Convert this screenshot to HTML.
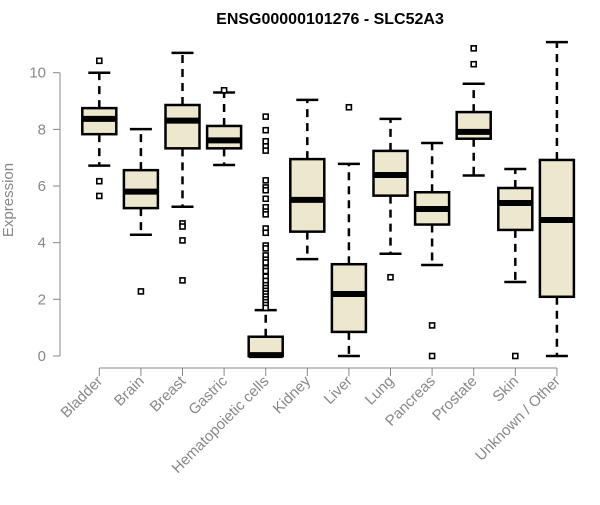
<!DOCTYPE html>
<html><head><meta charset="utf-8"><style>
body{margin:0;background:#fff}
svg text{font-family:"Liberation Sans",Arial,sans-serif}
</style></head><body>
<svg id="c" width="600" height="500" xmlns="http://www.w3.org/2000/svg">
<text x="330" y="24" text-anchor="middle" font-size="16" font-weight="bold">ENSG00000101276 - SLC52A3</text>
<text transform="translate(13,200) rotate(-90)" text-anchor="middle" font-size="15" fill="#888">Expression</text>
<g id="axes"></g><g id="boxes"></g>
</svg>
<script>
const categories=["Bladder","Brain","Breast","Gastric","Hematopoietic cells","Kidney","Liver","Lung","Pancreas","Prostate","Skin","Unknown / Other"];
const whiskerLow=[6.72,4.28,5.27,6.74,0,3.42,0,3.61,3.21,6.37,2.61,0];
const q1=[7.83,5.22,7.33,7.33,0,4.39,0.85,5.66,4.64,7.67,4.45,2.09];
const medians=[8.37,5.80,8.31,7.61,0.03,5.51,2.19,6.39,5.19,7.91,5.40,4.80];
const q3=[8.75,6.56,8.86,8.12,0.68,6.95,3.24,7.24,5.78,8.61,5.93,6.92];
const whiskerHigh=[10.0,8.01,10.7,9.3,1.62,9.04,6.78,8.37,7.52,9.61,6.6,11.08];
const outliers=[[10.42,6.17,5.65],[2.28],[4.68,4.57,4.08,2.67],[9.38],
[8.45,7.97,7.58,7.4,7.25,6.2,5.95,5.85,5.55,5.25,5.1,5.0,4.5,4.35,3.9,3.8,3.55,3.4,3.3,3.1,3.0,2.8,2.65,2.5,2.4,2.3,2.2,2.1,2.0,1.9,1.8,1.7],
[],[8.78],[2.78],[1.08,0],[10.86,10.3],[0],[]];
const yTicks=[0,2,4,6,8,10];
const NS="http://www.w3.org/2000/svg";
const y=v=>356-v*28.33;
const x=i=>99.3+i*41.6;
function mk(t,a,p){const e=document.createElementNS(NS,t);for(const k in a)e.setAttribute(k,a[k]);p.appendChild(e);return e;}
const ax=document.getElementById('axes'),bx=document.getElementById('boxes');
let yl=mk('line',{x1:60,x2:60,y1:y(0),y2:y(10),stroke:'#888'},ax);


yTicks.forEach(t=>{
 mk('line',{x1:53,x2:60,y1:y(t),y2:y(t),stroke:'#888'},ax);
 const tx=mk('text',{x:46,y:y(t)+5,'text-anchor':'end','font-size':15,fill:'#888'},ax);tx.textContent=t;
 
 
});
let xl=mk('line',{x1:x(0),x2:x(11),y1:368,y2:368,stroke:'#888'},ax);


categories.forEach((c,i)=>{
 const cx=x(i);
 mk('line',{x1:cx,x2:cx,y1:368,y2:376,stroke:'#888'},ax);
 const tx=mk('text',{transform:`translate(${cx+4},382) rotate(-45)`,'text-anchor':'end','font-size':15,fill:'#888'},ax);tx.textContent=c;
 
 
 const g=mk('g',{},bx);
 
 
 const w=17,ws=11;
 mk('line',{x1:cx,x2:cx,y1:y(q3[i]),y2:y(whiskerHigh[i]),stroke:'#000','stroke-width':2.5,'stroke-dasharray':'8,6'},g);
 mk('line',{x1:cx,x2:cx,y1:y(q1[i]),y2:y(whiskerLow[i]),stroke:'#000','stroke-width':2.5,'stroke-dasharray':'8,6'},g);
 mk('line',{x1:cx-ws,x2:cx+ws,y1:y(whiskerHigh[i]),y2:y(whiskerHigh[i]),stroke:'#000','stroke-width':2.5},g);
 mk('line',{x1:cx-ws,x2:cx+ws,y1:y(whiskerLow[i]),y2:y(whiskerLow[i]),stroke:'#000','stroke-width':2.5},g);
 mk('rect',{x:cx-w,y:y(q3[i]),width:2*w,height:Math.max(1,y(q1[i])-y(q3[i])),fill:'#ede7cd',stroke:'#000','stroke-width':2.5},g);
 mk('line',{x1:cx-w,x2:cx+w,y1:y(medians[i]),y2:y(medians[i]),stroke:'#000','stroke-width':6},g);
 outliers[i].forEach(o=>{
  const r=mk('rect',{x:cx-2.5,y:y(o)-2.5,width:5,height:5,fill:'#fff',stroke:'#000','stroke-width':1.6},g);
  
  
 });
});
</script>
</body></html>
